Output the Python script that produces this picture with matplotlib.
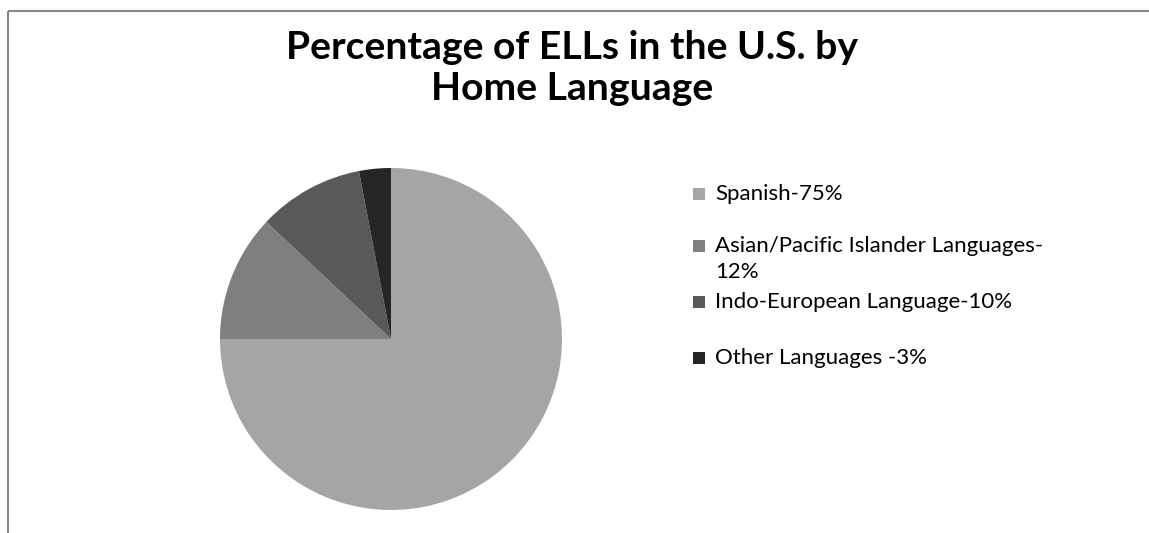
import matplotlib
matplotlib.use('Agg')
import matplotlib.pyplot as plt
from matplotlib.lines import Line2D
from matplotlib.patches import Rectangle

# data
languages = ['Spanish-75%', 'Asian/Pacific Islander Languages-\n12%',
             'Indo-European Language-10%', 'Other Languages -3%']
shares = [75, 12, 10, 3]
colors = ['#a5a5a5', '#7f7f7f', '#595959', '#262626']
title = 'Percentage of ELLs in the U.S. by\nHome Language'

W, H = 1149, 533
fig = plt.figure(figsize=(W / 100, H / 100), dpi=100)
plt.rcParams['font.family'] = ['Lato', 'DejaVu Sans']

# chart frame (right and bottom edges are cut off in the original)
frame_col = '#868686'
fig.add_artist(Line2D([7.5 / W, 7.5 / W], [0, 1 - 10.5 / H], transform=fig.transFigure,
                      color=frame_col, lw=1.5, solid_capstyle='butt'))
fig.add_artist(Line2D([7.5 / W, 1], [1 - 10.5 / H, 1 - 10.5 / H], transform=fig.transFigure,
                      color=frame_col, lw=1.5, solid_capstyle='butt'))

# pie
cx, cy, r = 391, 339, 171
ax = fig.add_axes([(cx - r) / W, (H - cy - r) / H, 2 * r / W, 2 * r / H])
ax.pie(shares, colors=colors, startangle=90, counterclock=False, radius=1,
       wedgeprops=dict(linewidth=0))
ax.set_xlim(-1, 1)
ax.set_ylim(-1, 1)
ax.set_aspect('equal')
ax.axis('off')

# title
fig.text(572 / W, 1 - 68 / H, title, ha='center', va='center', fontsize=28.2,
         fontweight='bold', linespacing=1.2)

# legend, drawn by hand to follow the original spacing
legend_y = [194, 246, 302, 358]
line_gap = 26
for lab, col, y in zip(languages, colors, legend_y):
    fig.add_artist(Rectangle((693 / W, 1 - (y + 6) / H), 12 / W, 12 / H,
                             transform=fig.transFigure, color=col, lw=0))
    for i, part in enumerate(lab.split('\n')):
        fig.text(715 / W, 1 - (y + i * line_gap) / H, part, ha='left', va='center',
                 fontsize=16)

fig.savefig('out.png', dpi=100)
